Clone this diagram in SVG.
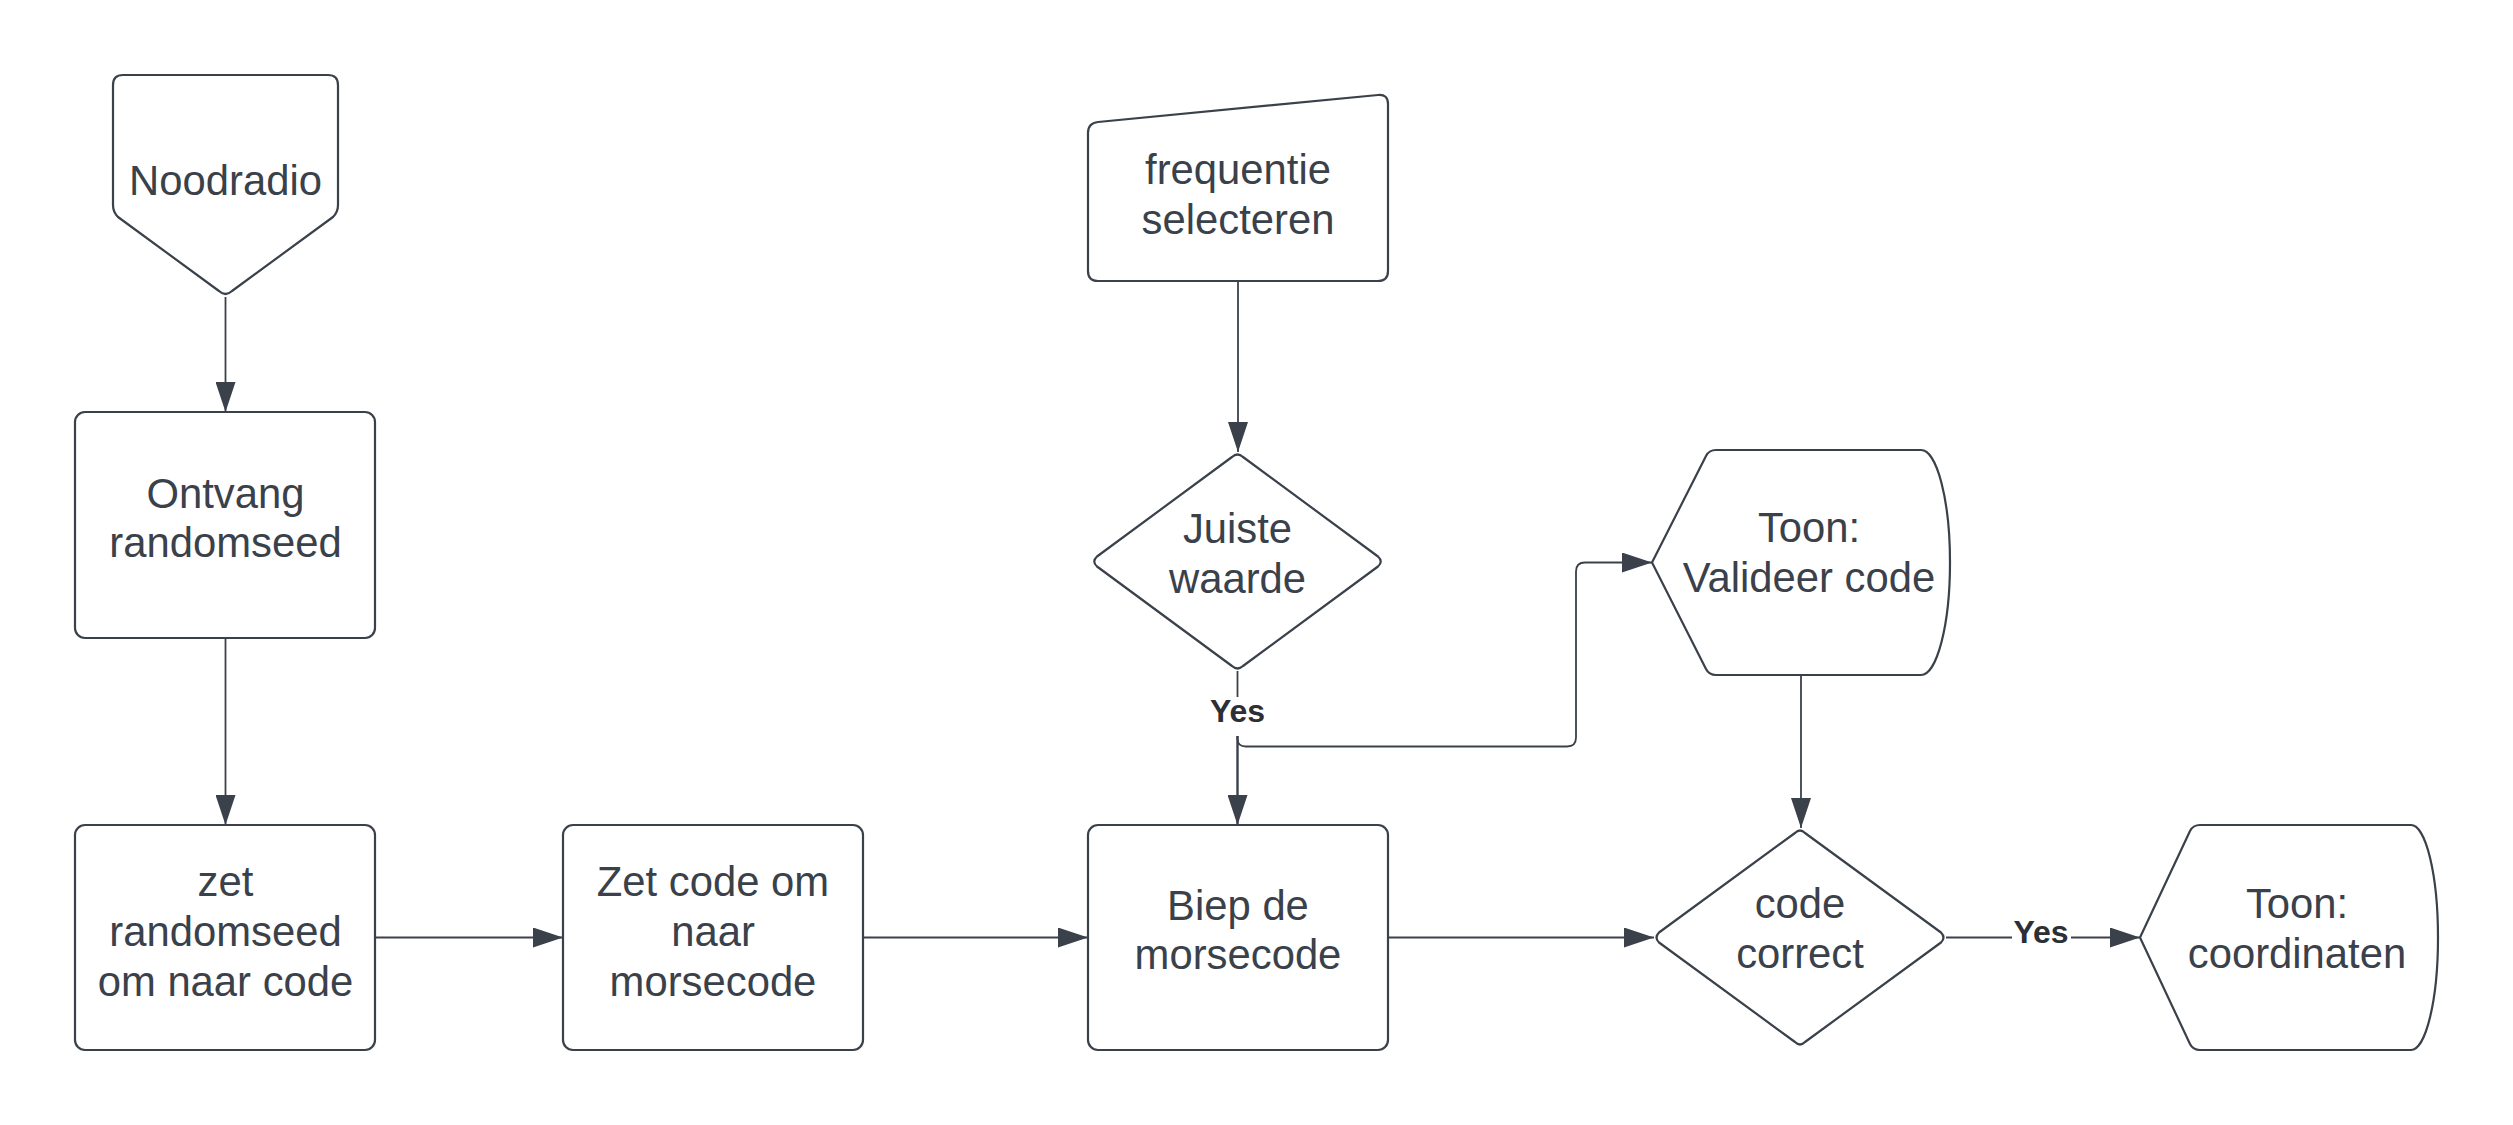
<svg xmlns="http://www.w3.org/2000/svg" width="2513" height="1125" viewBox="0 0 2513 1125">
<defs>
<style>
.shape{fill:#ffffff;stroke:#3a414a;stroke-width:2.2;stroke-linejoin:round}
.conn{fill:none;stroke:#3a414a;stroke-width:1.8}
.t{font-family:"Liberation Sans",Arial,sans-serif;font-size:41.8px;fill:#3a414a;text-anchor:middle}
.lbl{font-family:"Liberation Sans",Arial,sans-serif;font-size:32px;font-weight:bold;fill:#2b2f36;text-anchor:middle}
</style>
<marker id="arr" markerUnits="userSpaceOnUse" markerWidth="30" markerHeight="20" refX="30" refY="10" orient="auto">
<path d="M0,0 L30,10 L0,20 Z" fill="#3a414a"/>
</marker>
</defs>
<rect width="2513" height="1125" fill="#ffffff"/>

<g id="connectors">
<path class="conn" d="M225.5,297 V412" marker-end="url(#arr)"/>
<path class="conn" d="M225.5,638 V825" marker-end="url(#arr)"/>
<path class="conn" d="M375,937.5 H563" marker-end="url(#arr)"/>
<path class="conn" d="M863,937.5 H1088" marker-end="url(#arr)"/>
<path class="conn" d="M1388,937.5 H1654" marker-end="url(#arr)"/>
<path class="conn" d="M1238,281 V452" marker-end="url(#arr)"/>
<path class="conn" d="M1237.5,671 V697"/>
<path class="conn" d="M1237.5,736 V825" marker-end="url(#arr)" style="stroke-width:2.4"/>
<path class="conn" d="M1237.5,736 V739 Q1237.5,746.5 1246,746.5 H1567 Q1576,746.5 1576,737.5 V571.5 Q1576,562.5 1585,562.5 H1652" marker-end="url(#arr)"/>
<path class="conn" d="M1801,675 V828" marker-end="url(#arr)"/>
<path class="conn" d="M1946,937.5 H2012"/>
<path class="conn" d="M2071,937.5 H2140" marker-end="url(#arr)"/>
<text class="lbl" x="1237.5" y="722">Yes</text>
<text class="lbl" x="2041" y="943">Yes</text>
</g>

<g id="noodradio">
<path class="shape" d="M123,75 H328 Q338,75 338,85 V205 Q338,212 333,217 L232,291 Q225.5,297 219,291 L118,217 Q113,212 113,205 V85 Q113,75 123,75 Z"/>
<text class="t" x="225.5" y="195">Noodradio</text>
</g>

<g id="ontvang">
<rect class="shape" x="75" y="412" width="300" height="226" rx="10"/>
<text class="t" x="225.5" y="508">Ontvang</text>
<text class="t" x="225.5" y="557">randomseed</text>
</g>

<g id="zet-randomseed">
<rect class="shape" x="75" y="825" width="300" height="225" rx="10"/>
<text class="t" x="225.5" y="896">zet</text>
<text class="t" x="225.5" y="946">randomseed</text>
<text class="t" x="225.5" y="996">om naar code</text>
</g>

<g id="zet-morse">
<rect class="shape" x="563" y="825" width="300" height="225" rx="10"/>
<text class="t" x="713" y="896">Zet code om</text>
<text class="t" x="713" y="946">naar</text>
<text class="t" x="713" y="996">morsecode</text>
</g>

<g id="biep">
<rect class="shape" x="1088" y="825" width="300" height="225" rx="10"/>
<text class="t" x="1238" y="920">Biep de</text>
<text class="t" x="1238" y="969">morsecode</text>
</g>

<g id="frequentie">
<path class="shape" d="M1098,122 L1378,95 Q1388,94 1388,104 V271 Q1388,281 1378,281 H1098 Q1088,281 1088,271 V133 Q1088,123 1098,122 Z"/>
<text class="t" x="1238" y="184">frequentie</text>
<text class="t" x="1238" y="234">selecteren</text>
</g>

<g id="juiste-waarde">
<path class="shape" d="M1232,457 Q1237.5,452 1243,457 L1378,556.5 Q1383.5,561.5 1378,566.5 L1243,666 Q1237.5,671 1232,666 L1097,566.5 Q1091.5,561.5 1097,556.5 Z"/>
<text class="t" x="1237.5" y="543">Juiste</text>
<text class="t" x="1237.5" y="593">waarde</text>
</g>

<g id="toon-valideer">
<path class="shape" d="M1652,562.5 L1706,456 Q1709,450 1716,450 H1921 A29,112.5 0 0 1 1921,675 H1716 Q1709,675 1706,669 Z"/>
<text class="t" x="1809" y="542">Toon:</text>
<text class="t" x="1809" y="592">Valideer code</text>
</g>

<g id="code-correct">
<path class="shape" d="M1795,833 Q1800,828 1805,833 L1941,932.5 Q1946,937.5 1941,942.5 L1805,1042 Q1800,1047 1795,1042 L1659,942.5 Q1654,937.5 1659,932.5 Z"/>
<text class="t" x="1800" y="918">code</text>
<text class="t" x="1800" y="968">correct</text>
</g>

<g id="toon-coordinaten">
<path class="shape" d="M2140,937.5 L2190,831 Q2193,825 2200,825 H2411 A27,112.5 0 0 1 2411,1050 H2200 Q2193,1050 2190,1044 Z"/>
<text class="t" x="2297" y="918">Toon:</text>
<text class="t" x="2297" y="968">coordinaten</text>
</g>
</svg>
